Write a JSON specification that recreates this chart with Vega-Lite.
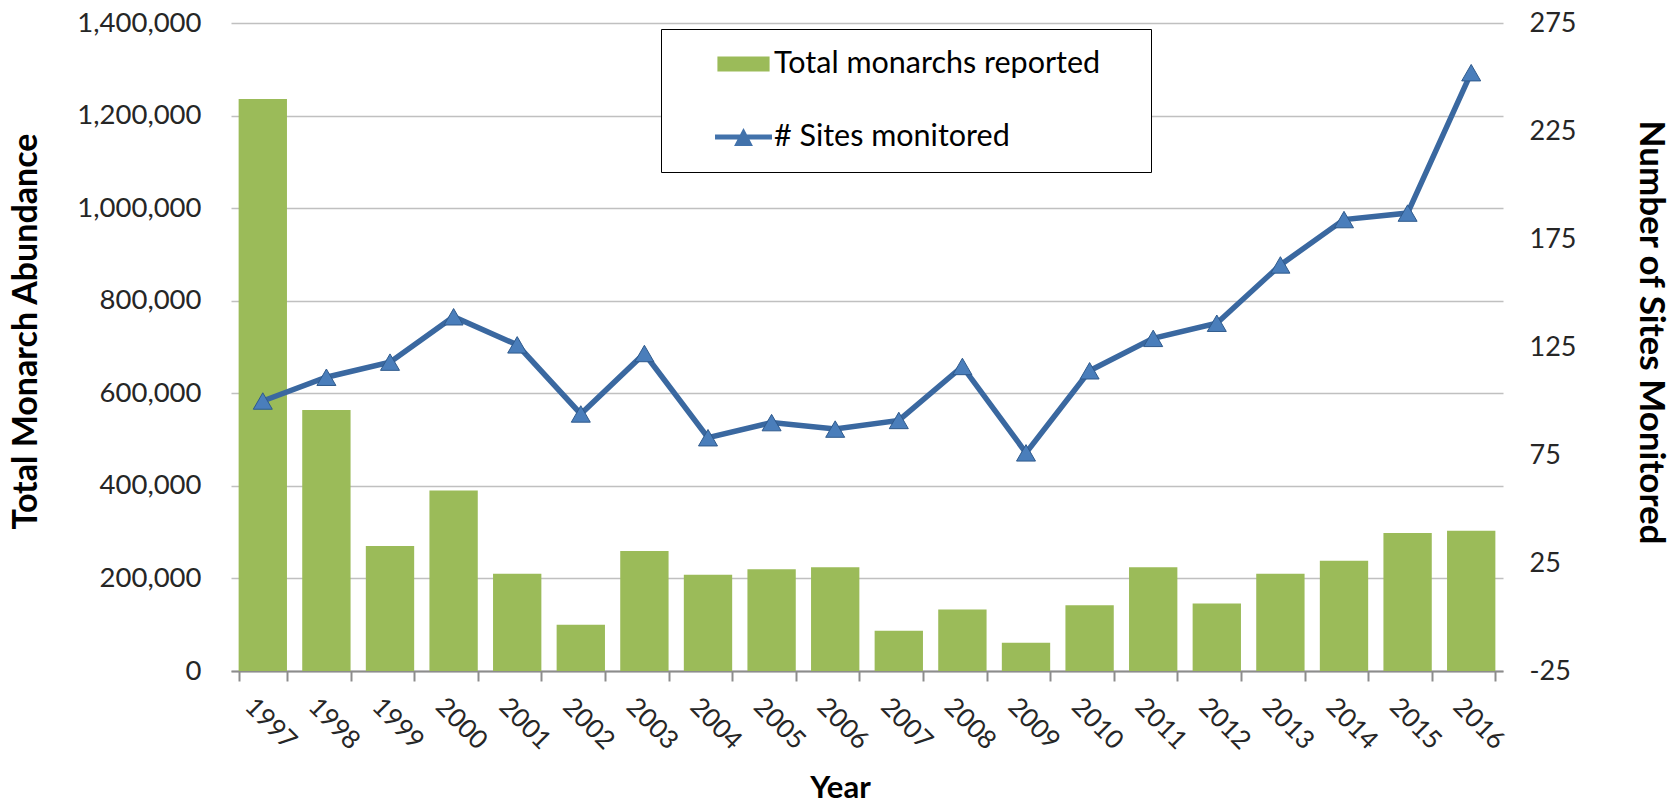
{
  "$schema": "https://vega.github.io/schema/vega-lite/v6.json",
  "autosize": {"type": "none"},
  "padding": {"left": 231, "top": 23, "right": 172, "bottom": 136},
  "width": 1272,
  "height": 648,
  "background": "white",
  "config": {"view": {"stroke": null}},
  "data": {"values": [
    {"year": "1997", "monarchs": 1236000, "sites": 100},
    {"year": "1998", "monarchs": 564000, "sites": 111},
    {"year": "1999", "monarchs": 270000, "sites": 118},
    {"year": "2000", "monarchs": 390000, "sites": 139},
    {"year": "2001", "monarchs": 210000, "sites": 126},
    {"year": "2002", "monarchs": 100000, "sites": 94},
    {"year": "2003", "monarchs": 259000, "sites": 122},
    {"year": "2004", "monarchs": 208000, "sites": 83},
    {"year": "2005", "monarchs": 220000, "sites": 90},
    {"year": "2006", "monarchs": 224000, "sites": 87},
    {"year": "2007", "monarchs": 87000, "sites": 91},
    {"year": "2008", "monarchs": 133000, "sites": 116},
    {"year": "2009", "monarchs": 61000, "sites": 76},
    {"year": "2010", "monarchs": 142000, "sites": 114},
    {"year": "2011", "monarchs": 224000, "sites": 129},
    {"year": "2012", "monarchs": 146000, "sites": 136},
    {"year": "2013", "monarchs": 210000, "sites": 163},
    {"year": "2014", "monarchs": 238000, "sites": 184},
    {"year": "2015", "monarchs": 298000, "sites": 187},
    {"year": "2016", "monarchs": 303000, "sites": 252}
  ]},
  "layer": [
    {
      "mark": {"type": "bar", "color": "#9bbb59"},
      "encoding": {
        "x": {
          "field": "year", "type": "ordinal",
          "scale": {"paddingInner": 0.24, "paddingOuter": 0.12},
          "axis": {
            "title": "Year", "labelAngle": 45, "labelAlign": "left", "labelBaseline": "top",
            "labelFont": "Lato", "labelFontSize": 26, "labelColor": "#262626",
            "labelOffset": -5, "labelPadding": 12,
            "tickBand": "extent", "tickSize": 10, "tickColor": "#8c8c8c", "tickWidth": 2,
            "domainColor": "#8c8c8c", "domainWidth": 2, "grid": false,
            "titleFont": "Lato", "titleFontWeight": "bold", "titleFontSize": 31, "titleColor": "#000000",
            "titleX": 609, "titleY": 117, "titleAlign": "center", "titleBaseline": "middle"
          }
        },
        "y": {
          "field": "monarchs", "type": "quantitative",
          "scale": {"domain": [0, 1400000], "nice": false},
          "axis": {
            "title": "Total Monarch Abundance",
            "values": [0, 200000, 400000, 600000, 800000, 1000000, 1200000, 1400000],
            "format": ",d", "domain": false, "ticks": false,
            "grid": true, "gridColor": "#c0c0c0", "gridWidth": 1.5,
            "labelFont": "Lato", "labelFontSize": 27.5, "labelColor": "#262626", "labelPadding": 30,
            "titleFont": "Lato", "titleFontWeight": "bold", "titleFontSize": 34, "titleColor": "#000000",
            "titleX": -204.5, "titleY": 308, "titleAngle": -90, "titleAlign": "center", "titleBaseline": "middle"
          }
        }
      }
    },
    {
      "layer": [
        {
          "mark": {"type": "line", "color": "#3a68a0", "strokeWidth": 5.5},
          "encoding": {
            "x": {"field": "year", "type": "ordinal"},
            "y": {
              "field": "sites", "type": "quantitative",
              "scale": {"domain": [-25, 275], "nice": false},
              "axis": {
                "orient": "right", "title": "Number of Sites Monitored",
                "values": [-25, 25, 75, 125, 175, 225, 275],
                "labelExpr": "'' + datum.value",
                "domain": false, "ticks": false, "grid": false,
                "labelFont": "Lato", "labelFontSize": 27, "labelColor": "#262626", "labelPadding": 26,
                "titleFont": "Lato", "titleFontWeight": "bold", "titleFontSize": 35, "titleColor": "#000000",
                "titleX": 147.5, "titleY": 309, "titleAngle": 90, "titleAlign": "center", "titleBaseline": "middle"
              }
            }
          }
        },
        {
          "mark": {"type": "point", "shape": "triangle-up", "filled": true, "fill": "#4a7ebb", "stroke": "#2f5a8c", "strokeWidth": 1, "size": 361, "opacity": 1},
          "encoding": {
            "x": {"field": "year", "type": "ordinal"},
            "y": {"field": "sites", "type": "quantitative"}
          }
        },
        {
          "data": {"values": [{"series": "Total monarchs reported"}, {"series": "# Sites monitored"}]},
          "mark": {"type": "point", "filled": true, "opacity": 0},
          "encoding": {
            "color": {
              "field": "series", "type": "nominal",
              "scale": {"domain": ["Total monarchs reported", "# Sites monitored"], "range": ["#9bbb59", "#4272ab"]},
              "legend": {
                "title": null, "orient": "none", "legendX": 430, "legendY": 6,
                "padding": 19, "strokeColor": "#000000", "fillColor": "#ffffff",
                "symbolSize": 1024, "symbolOffset": 47.5, "labelOffset": 14.5, "rowPadding": 41,
                "symbolOpacity": 1, "symbolStrokeWidth": 0,
                "labelFont": "Lato", "labelFontSize": 30.5, "labelColor": "#000000", "labelLimit": 700,
                "labelExpr": "datum.label + '\u00a0\u00a0\u00a0\u00a0\u200b'"
              }
            },
            "shape": {
              "field": "series", "type": "nominal",
              "scale": {"domain": ["Total monarchs reported", "# Sites monitored"], "range": ["M-1.63,-0.47H1.63V0.47H-1.63Z", "M-1.78,-0.16H1.78V0.16H-1.78Z M-0.59,0.56L0,-0.56L0.59,0.56Z"]},
              "legend": {
                "title": null, "orient": "none", "legendX": 430, "legendY": 6,
                "padding": 19, "strokeColor": "#000000", "fillColor": "#ffffff",
                "symbolSize": 1024, "symbolOffset": 47.5, "labelOffset": 14.5, "rowPadding": 41,
                "symbolOpacity": 1, "symbolStrokeWidth": 0,
                "labelFont": "Lato", "labelFontSize": 30.5, "labelColor": "#000000", "labelLimit": 700,
                "labelExpr": "datum.label + '\u00a0\u00a0\u00a0\u00a0\u200b'"
              }
            }
          }
        }
      ]
    }
  ],
  "resolve": {"scale": {"y": "independent"}}
}
